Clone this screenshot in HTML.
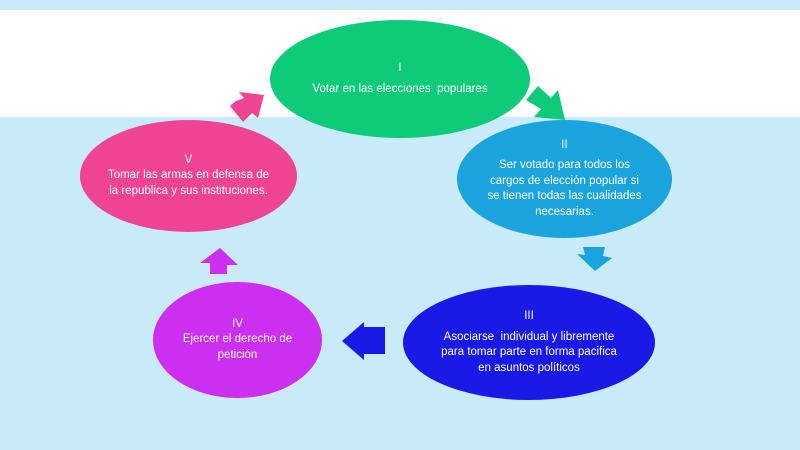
<!DOCTYPE html>
<html><head><meta charset="utf-8"><style>
body{margin:0;width:800px;height:450px;overflow:hidden;background:#c9eaf9;font-family:"Liberation Sans",sans-serif}
.w{position:absolute;left:0;top:10px;width:800px;height:107px;background:#fff}
.e{position:absolute;border-radius:50%;color:#fff;display:flex;flex-direction:column;align-items:center;justify-content:center;text-align:center;font-size:11.5px;line-height:15.5px;box-sizing:border-box;white-space:nowrap}
.g{height:5px}
svg{position:absolute;left:0;top:0}
</style></head><body>
<div class="w"></div>
<div class="e" style="left:270px;top:20px;width:260px;height:118px;background:#0ecb7a"><div>I</div><div class="g"></div><div>Votar en las elecciones&nbsp; populares</div></div>
<div class="e" style="left:80px;top:120px;width:217px;height:112px;background:#ef4494"><div>V</div><div>Tomar las armas en defensa de<br>la republica y sus instituciones.</div></div>
<div class="e" style="left:457px;top:120px;width:215px;height:118px;background:#1ba3de"><div>II</div><div class="g"></div><div>Ser votado para todos los<br>cargos de elección popular si<br>se tienen todas las cualidades<br>necesarias.</div></div>
<div class="e" style="left:403px;top:285px;width:252px;height:115px;background:#1a1ae8"><div>III</div><div class="g"></div><div>Asociarse&nbsp; individual y libremente<br>para tomar parte en forma pacifica<br>en asuntos políticos</div></div>
<div class="e" style="left:153px;top:282px;width:169px;height:116px;background:#cc2ff0"><div>IV</div><div>Ejercer el derecho de<br>petición</div></div>
<svg width="800" height="450">
<polygon points="526,100 538,86 551,98 558,90 565,120 534,117 541,109" fill="#0ecb7a"/>
<polygon points="583,247 605,247 603,256 612,258 595,271 577,254 585,255" fill="#1ba3de"/>
<polygon points="385,327 364,327 364,322 342,341 364,360 364,354 385,354" fill="#1a1ae8"/>
<polygon points="210,274 227,274 227,265 238,265 220,248 200,263 210,263" fill="#cc2ff0"/>
<polygon points="230,106 243,122 252,113 258,118 264,95 239,92 244,98 236,101" fill="#ef4494"/>
</svg>
</body></html>
